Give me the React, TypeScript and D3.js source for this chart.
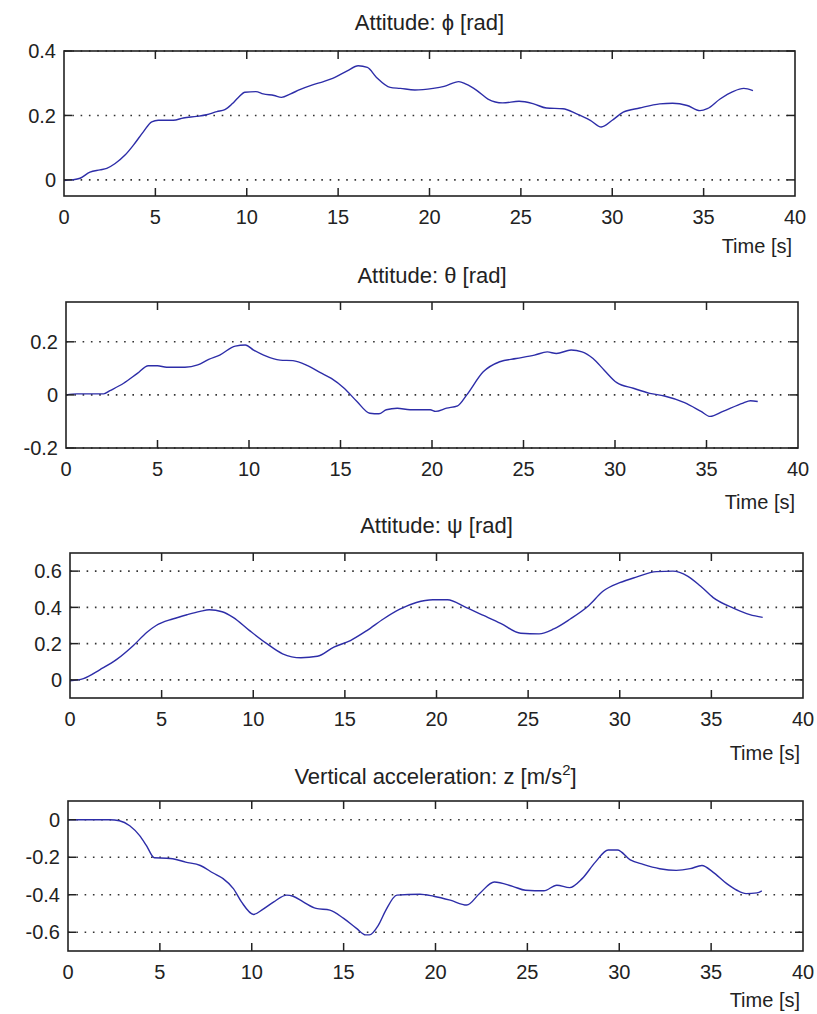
import React, { useEffect, useRef } from 'react';
import * as d3 from 'd3';

// time samples [s] and values, one pair of arrays per panel
const phiT = [0, 0.42, 0.88, 1.42, 1.97, 2.34, 2.8, 3.34, 3.8, 4.34, 4.8, 5.16, 5.98, 6.53, 7.26, 7.8, 8.36, 8.8, 9.2, 9.54, 9.9, 10.5, 10.9, 11.5, 11.9, 12.4, 12.9, 13.6, 14.2, 14.7, 15.5, 16.1, 16.6, 17.1, 17.85, 18.4, 19.2, 20.2, 20.8, 21.6, 22.0, 22.6, 23.2, 24.0, 24.9, 25.7, 26.4, 27.3, 28.05, 28.8, 29.4, 30.0, 30.6, 31.5, 32.6, 33.3, 34.1, 34.8, 35.2, 35.9, 36.6, 37.2, 37.7];
const phiV = [-0.002, 0, 0.005, 0.024, 0.031, 0.036, 0.051, 0.077, 0.108, 0.149, 0.18, 0.185, 0.185, 0.192, 0.197, 0.202, 0.212, 0.218, 0.236, 0.256, 0.272, 0.274, 0.267, 0.262, 0.256, 0.267, 0.28, 0.295, 0.305, 0.315, 0.338, 0.354, 0.349, 0.318, 0.287, 0.284, 0.279, 0.284, 0.29, 0.305, 0.297, 0.277, 0.251, 0.239, 0.244, 0.236, 0.223, 0.221, 0.205, 0.185, 0.164, 0.185, 0.21, 0.223, 0.236, 0.238, 0.231, 0.215, 0.221, 0.251, 0.274, 0.284, 0.277];

const thetaT = [0, 0.6, 2.06, 2.4, 3.15, 3.9, 4.5, 5.0, 5.5, 6.5, 7.2, 7.8, 8.4, 9.25, 9.8, 10.25, 10.8, 11.7, 12.4, 13.2, 13.9, 14.5, 15.2, 15.9, 16.6, 17.1, 17.5, 18.1, 18.8, 19.9, 20.2, 20.8, 21.4, 21.9, 22.8, 23.7, 24.6, 25.6, 26.3, 26.8, 27.6, 28.2, 28.8, 29.4, 30.1, 31.0, 31.9, 32.7, 33.8, 34.7, 35.2, 35.9, 37.0, 37.4, 37.8];
const thetaV = [0, 0.004, 0.004, 0.016, 0.044, 0.081, 0.11, 0.11, 0.104, 0.104, 0.113, 0.134, 0.15, 0.184, 0.188, 0.169, 0.15, 0.131, 0.129, 0.11, 0.084, 0.062, 0.025, -0.025, -0.069, -0.071, -0.056, -0.05, -0.056, -0.056, -0.062, -0.05, -0.041, 0, 0.087, 0.125, 0.137, 0.15, 0.162, 0.156, 0.169, 0.162, 0.137, 0.094, 0.046, 0.025, 0.006, -0.004, -0.029, -0.062, -0.081, -0.062, -0.031, -0.022, -0.025];

const psiT = [0, 0.73, 1.64, 2.55, 3.46, 4.2, 4.7, 5.6, 6.4, 7.1, 7.6, 8.3, 8.9, 9.8, 10.7, 11.6, 12.6, 13.5, 14.4, 15.3, 16.2, 17.1, 18.0, 18.9, 19.8, 20.6, 21.6, 22.6, 23.5, 24.6, 25.6, 26.4, 27.3, 28.3, 29.1, 30.0, 30.9, 32.0, 32.9, 33.7, 34.4, 35.1, 36.2, 37.1, 37.8];
const psiV = [-0.005, 0.007, 0.057, 0.113, 0.19, 0.263, 0.3, 0.336, 0.36, 0.378, 0.387, 0.376, 0.345, 0.272, 0.203, 0.144, 0.122, 0.13, 0.181, 0.217, 0.272, 0.336, 0.39, 0.427, 0.442, 0.442, 0.4, 0.354, 0.312, 0.257, 0.254, 0.281, 0.336, 0.409, 0.49, 0.536, 0.567, 0.597, 0.6, 0.573, 0.518, 0.454, 0.396, 0.36, 0.345];

const accT = [0, 2.27, 2.8, 3.36, 3.9, 4.27, 4.7, 5.36, 5.7, 6.4, 7.2, 7.9, 8.44, 9.0, 9.44, 10.1, 10.6, 11.2, 11.9, 12.25, 12.8, 13.5, 14.25, 15.0, 15.7, 16.2, 16.4, 16.9, 17.3, 17.9, 19.15, 19.9, 20.8, 21.7, 22.4, 23.2, 24.2, 24.9, 25.9, 26.6, 27.3, 27.98, 28.7, 29.4, 29.9, 30.6, 31.3, 32.2, 33.1, 33.86, 34.5, 35.1, 35.85, 36.4, 36.9, 37.5, 37.76];
const accV = [0, 0, -0.005, -0.032, -0.085, -0.138, -0.203, -0.205, -0.208, -0.226, -0.244, -0.284, -0.314, -0.367, -0.438, -0.505, -0.478, -0.438, -0.402, -0.408, -0.438, -0.473, -0.482, -0.526, -0.579, -0.614, -0.614, -0.561, -0.482, -0.402, -0.397, -0.408, -0.429, -0.455, -0.393, -0.332, -0.355, -0.376, -0.379, -0.349, -0.362, -0.314, -0.226, -0.161, -0.161, -0.214, -0.238, -0.261, -0.27, -0.261, -0.244, -0.279, -0.341, -0.376, -0.394, -0.39, -0.379];

const xTicks = [0, 5, 10, 15, 20, 25, 30, 35, 40];
const phiTicks = [0, 0.2, 0.4];
const thetaTicks = [-0.2, 0, 0.2];
const psiTicks = [0, 0.2, 0.4, 0.6];
const accTicks = [-0.6, -0.4, -0.2, 0];

type Panel = {
  title: string;
  t: number[];
  v: number[];
  yDomain: [number, number];
  yTicks: number[];
  box: { left: number; right: number; top: number; bottom: number };
  titleY: number;
  xlabelY: number;
};

const panels: Panel[] = [
  { title: 'Attitude: \u03d5 [rad]', t: phiT, v: phiV, yDomain: [-0.05, 0.4], yTicks: phiTicks,
    box: { left: 64, right: 795, top: 51, bottom: 196 }, titleY: 30, xlabelY: 253 },
  { title: 'Attitude: \u03b8 [rad]', t: thetaT, v: thetaV, yDomain: [-0.2, 0.35], yTicks: thetaTicks,
    box: { left: 66, right: 798, top: 302, bottom: 448 }, titleY: 283, xlabelY: 509 },
  { title: 'Attitude: \u03c8 [rad]', t: psiT, v: psiV, yDomain: [-0.1, 0.7], yTicks: psiTicks,
    box: { left: 70, right: 803, top: 553, bottom: 698 }, titleY: 533, xlabelY: 760 },
  { title: 'Vertical acceleration: z [m/s', t: accT, v: accV, yDomain: [-0.7, 0.1], yTicks: accTicks,
    box: { left: 68, right: 803, top: 801, bottom: 951 }, titleY: 784, xlabelY: 1007 },
];

const FONT = '"Liberation Sans", Arial, Helvetica, sans-serif';
const INK = '#222';
const LINE = '#2d2da8';
const TICK = 8;

const App = () => {
  const ref = useRef<SVGSVGElement | null>(null);

  useEffect(() => {
    const svg = d3.select(ref.current);
    svg.selectAll('*').remove();

    panels.forEach((p, i) => {
      const { left, right, top, bottom } = p.box;
      const x = d3.scaleLinear().domain([0, 40]).range([left, right]);
      const y = d3.scaleLinear().domain(p.yDomain).range([bottom, top]);
      const g = svg.append('g');

      // dotted horizontal grid
      g.selectAll('line.grid').data(p.yTicks).enter()
        .append('line')
        .attr('x1', left).attr('x2', right)
        .attr('y1', (d) => y(d)).attr('y2', (d) => y(d))
        .attr('stroke', '#333').attr('stroke-width', 1.6)
        .attr('stroke-dasharray', '1.6 6.7');

      // the signal
      const pts = p.t.map((t, k) => [t, p.v[k]] as [number, number]);
      const line = d3.line<[number, number]>()
        .x((d) => x(d[0])).y((d) => y(d[1]))
        .curve(d3.curveMonotoneX);
      g.append('path').datum(pts)
        .attr('d', line)
        .attr('fill', 'none').attr('stroke', LINE).attr('stroke-width', 1.4);

      // ticks on all four sides, pointing in
      g.selectAll('line.xt').data(xTicks.slice(1, -1)).enter()
        .append('line')
        .attr('x1', (d) => x(d)).attr('x2', (d) => x(d))
        .attr('y1', bottom).attr('y2', bottom - TICK)
        .attr('stroke', INK).attr('stroke-width', 1.5);
      g.selectAll('line.xtt').data(xTicks.slice(1, -1)).enter()
        .append('line')
        .attr('x1', (d) => x(d)).attr('x2', (d) => x(d))
        .attr('y1', top).attr('y2', top + TICK)
        .attr('stroke', INK).attr('stroke-width', 1.5);
      g.selectAll('line.yt').data(p.yTicks).enter()
        .append('line')
        .attr('x1', left).attr('x2', left + TICK)
        .attr('y1', (d) => y(d)).attr('y2', (d) => y(d))
        .attr('stroke', INK).attr('stroke-width', 1.5);
      g.selectAll('line.ytr').data(p.yTicks).enter()
        .append('line')
        .attr('x1', right - TICK).attr('x2', right)
        .attr('y1', (d) => y(d)).attr('y2', (d) => y(d))
        .attr('stroke', INK).attr('stroke-width', 1.5);

      // box
      g.append('rect')
        .attr('x', left).attr('y', top)
        .attr('width', right - left).attr('height', bottom - top)
        .attr('fill', 'none').attr('stroke', INK).attr('stroke-width', 1.6);

      // tick labels
      g.selectAll('text.xl').data(xTicks).enter()
        .append('text')
        .attr('x', (d) => x(d)).attr('y', bottom + 28)
        .attr('text-anchor', 'middle')
        .attr('font-family', FONT).attr('font-size', 20).attr('fill', INK)
        .text((d) => d3.format('d')(d));
      g.selectAll('text.yl').data(p.yTicks).enter()
        .append('text')
        .attr('x', left - 8).attr('y', (d) => y(d))
        .attr('dy', '0.36em')
        .attr('text-anchor', 'end')
        .attr('font-family', FONT).attr('font-size', 20).attr('fill', INK)
        .text((d) => (d === 0 ? '0' : String(d)));

      // title
      const title = g.append('text')
        .attr('x', (left + right) / 2).attr('y', p.titleY)
        .attr('text-anchor', 'middle')
        .attr('font-family', FONT).attr('font-size', 22).attr('fill', INK)
        .text(p.title);
      if (i === 3) {
        title.append('tspan').attr('dy', -9).attr('font-size', 15).text('2');
        title.append('tspan').attr('dy', 9).text(']');
      }

      // x label
      g.append('text')
        .attr('x', right - 3).attr('y', p.xlabelY)
        .attr('text-anchor', 'end')
        .attr('font-family', FONT).attr('font-size', 20).attr('fill', INK)
        .text('Time [s]');
    });
  }, []);

  return (
    <svg ref={ref} width={817} height={1014}
      style={{ position: 'absolute', left: 0, top: 0, background: '#fff' }} />
  );
};

export default App;
